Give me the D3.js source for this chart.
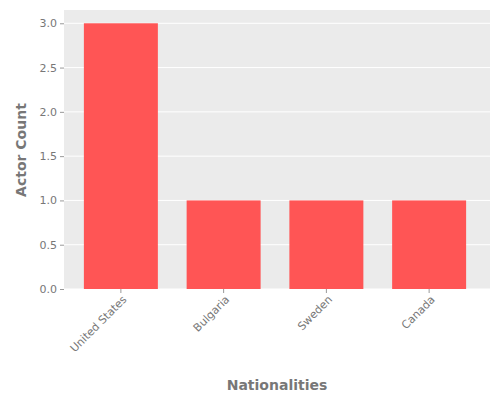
<!DOCTYPE html>
<html><head><meta charset="utf-8">
<script src="https://cdn.jsdelivr.net/npm/d3@7"></script>
<style>body{margin:0;background:#fff}text{font-family:"DejaVu Sans",sans-serif}</style>
</head><body><svg id="c" width="500" height="400"></svg>
<script>
var nationalities = ['United States','Bulgaria','Sweden','Canada'];
var counts = [3,1,1,1];
var yTicks = [0,0.5,1,1.5,2,2.5,3];

var svg = d3.select('#c');
var x = d3.scaleBand().domain(nationalities).range([69.5,480.5]).paddingInner(0.28).paddingOuter(0.14);
var y = d3.scaleLinear().domain([0,3.15]).range([289,10]);

svg.append('rect').attr('x',64).attr('y',10).attr('width',426).attr('height',279).attr('fill','#ebebeb');

svg.selectAll('.grid').data(yTicks).enter().append('line')
    .attr('x1',64).attr('x2',490).attr('y1',function(d){return y(d);}).attr('y2',function(d){return y(d);})
    .attr('stroke','#fff').attr('stroke-width',1);

svg.selectAll('.bar').data(counts).enter().append('rect')
    .attr('x',function(d,i){return x(nationalities[i]);})
    .attr('width',x.bandwidth())
    .attr('y',function(d){return y(d);})
    .attr('height',function(d){return y(0)-y(d);})
    .attr('fill','#ff5555');

var ya = svg.append('g').attr('transform','translate(64,0)')
    .call(d3.axisLeft(y).tickValues(yTicks).tickFormat(d3.format('.1f')).tickSize(4));
ya.select('.domain').remove();
ya.selectAll('line').attr('stroke','#999');
ya.selectAll('text').attr('fill','#777').attr('font-size',11);

var xa = svg.append('g').attr('transform','translate(0,289)')
    .call(d3.axisBottom(x).tickSize(4));
xa.select('.domain').remove();
xa.selectAll('line').attr('stroke','#999');
xa.selectAll('text').attr('fill','#777').attr('font-size',11)
    .attr('text-anchor','end').attr('dx','-0.3em').attr('dy','0.5em')
    .attr('transform','rotate(-45)');

svg.append('text').attr('x',277).attr('y',390).attr('text-anchor','middle')
    .attr('fill','#777').attr('font-size',14).attr('font-weight','bold').text('Nationalities');
svg.append('text').attr('transform','translate(26,150) rotate(-90)').attr('text-anchor','middle')
    .attr('fill','#777').attr('font-size',14).attr('font-weight','bold').text('Actor Count');
</script></body></html>
